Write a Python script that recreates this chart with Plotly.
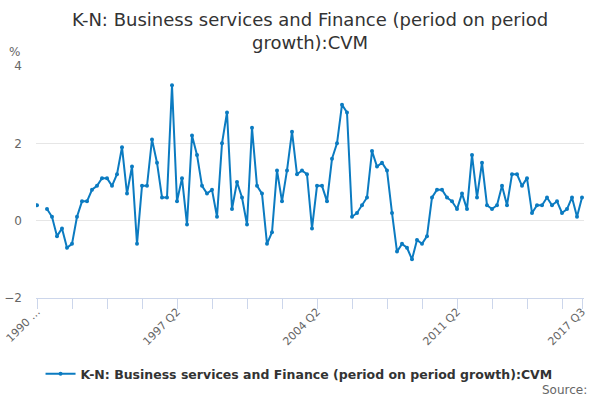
import plotly.graph_objects as go

# quarterly periods, 1990 Q2 .. 2017 Q3
quarters = []
for yr in range(1990, 2018):
    for q in range(1, 5):
        if (yr == 1990 and q < 2) or (yr == 2017 and q > 3):
            continue
        quarters.append(f"{yr} Q{q}")

growth = [
    0.4, None, 0.3, 0.1, -0.4, -0.2, -0.7, -0.6, 0.1, 0.5,
    0.5, 0.8, 0.9, 1.1, 1.1, 0.9, 1.2, 1.9, 0.7, 1.4,
    -0.6, 0.9, 0.9, 2.1, 1.5, 0.6, 0.6, 3.5, 0.5, 1.1,
    -0.1, 2.2, 1.7, 0.9, 0.7, 0.8, 0.1, 2.0, 2.8, 0.3,
    1.0, 0.6, -0.1, 2.4, 0.9, 0.7, -0.6, -0.3, 1.3, 0.5,
    1.3, 2.3, 1.2, 1.3, 1.2, -0.2, 0.9, 0.9, 0.5, 1.6,
    2.0, 3.0, 2.8, 0.1, 0.2, 0.4, 0.6, 1.8, 1.4, 1.5,
    1.3, 0.2, -0.8, -0.6, -0.7, -1.0, -0.5, -0.6, -0.4, 0.6,
    0.8, 0.8, 0.6, 0.5, 0.3, 0.7, 0.3, 1.7, 0.6, 1.5,
    0.4, 0.3, 0.4, 0.9, 0.4, 1.2, 1.2, 0.9, 1.1, 0.2,
    0.4, 0.4, 0.6, 0.4, 0.5, 0.2, 0.3, 0.6, 0.1, 0.6,
]

label_idx = [0, 28, 56, 84, 109]
label_text = ["1990 …", "1997 Q2", "2004 Q2", "2011 Q2", "2017 Q3"]
minor_idx = list(range(0, 110, 7)) + [109]

series_name = "K-N: Business services and Finance (period on period growth):CVM"
line_col = "#0b7bc1"

fig = go.Figure()
fig.add_trace(go.Scatter(
    x=list(range(len(growth))), y=growth, customdata=quarters,
    mode="lines+markers", name=series_name, connectgaps=False,
    line=dict(color=line_col, width=2),
    marker=dict(color=line_col, size=4),
    hovertemplate="%{customdata}: %{y}<extra></extra>",
))

fig.update_layout(
    width=600, height=400,
    margin=dict(l=36, r=16, t=66, b=102, autoexpand=False),
    paper_bgcolor="white", plot_bgcolor="white",
    font=dict(family="DejaVu Sans", color="#666666"),
    showlegend=True,
    legend=dict(
        orientation="h", x=0.48, xanchor="center",
        yref="container", y=0.065, yanchor="middle",
        font=dict(size=12.5, color="#333333", weight="bold"),
    ),
    xaxis=dict(
        range=[-0.2, 109.4], showgrid=False, zeroline=False, automargin=False,
        tickmode="array", tickvals=label_idx, ticktext=label_text,
        tickangle=-45, tickfont=dict(size=11, color="#666666"),
        ticklabeloverflow="allow", ticklabelstandoff=-8,
        ticks="outside", ticklen=10, tickcolor="#ccd6eb",
        showline=True, linecolor="#ccd6eb", linewidth=1,
        minor=dict(tickmode="array", tickvals=minor_idx, ticks="outside",
                   ticklen=10, tickcolor="#ccd6eb"),
    ),
    yaxis=dict(
        range=[-2, 4], tickvals=[-2, 0, 2, 4], showgrid=True, automargin=False,
        gridcolor="#e6e6e6", zeroline=False,
        tickfont=dict(size=12, color="#666666"), ticks="", ticklabelstandoff=13,
    ),
)

fig.add_annotation(
    text="K-N: Business services and Finance (period on period<br>growth):CVM",
    xref="paper", yref="paper", x=0.5, y=1.149, xanchor="center", yanchor="middle",
    showarrow=False, font=dict(size=18, color="#333333"),
)
fig.add_annotation(text="%", xref="paper", yref="paper", x=-0.04, y=1.06,
                   xanchor="center", yanchor="middle", showarrow=False,
                   font=dict(size=12, color="#666666"))
fig.add_annotation(text="Source:", xref="paper", yref="paper", x=1.01, y=-0.397,
                   xanchor="right", yanchor="middle", showarrow=False,
                   font=dict(size=12, color="#666666"))

# drop the page's default 8px body margin so the chart fills the window
fig.write_html("out.html", config={"displayModeBar": False},
               post_script="document.body.style.margin='0px';")
